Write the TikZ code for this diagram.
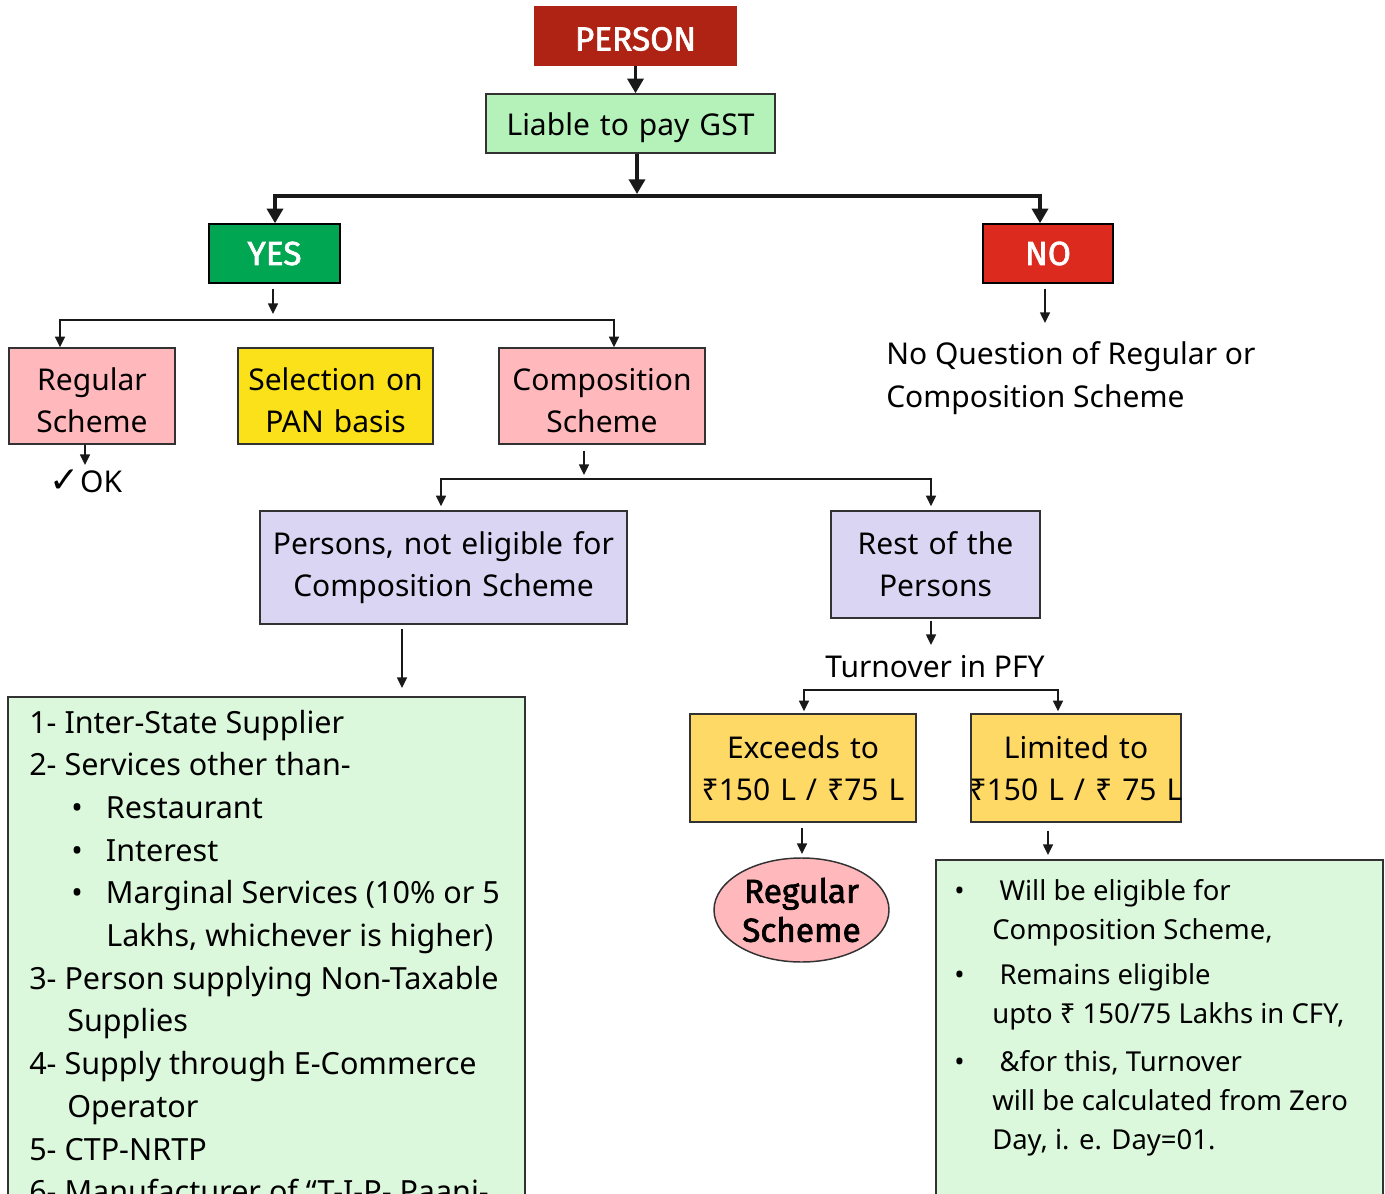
\documentclass[tikz,border=0pt]{standalone}
\usepackage{fontspec}
\setmainfont{Noto Sans}
\newfontfamily\boldfam{Fira Sans}[AutoFakeBold=2]
\newfontfamily\dejavu{DejaVu Sans}
\usetikzlibrary{arrows.meta,shapes.geometric}
\definecolor{cPerson}{RGB}{174,35,20}
\definecolor{cLiable}{RGB}{180,242,186}
\definecolor{cYes}{RGB}{0,166,81}
\definecolor{cNo}{RGB}{221,42,30}
\definecolor{cPink}{RGB}{255,184,188}
\definecolor{cYellow}{RGB}{251,225,26}
\definecolor{cLav}{RGB}{217,213,243}
\definecolor{cOrange}{RGB}{255,217,102}
\definecolor{cLGreen}{RGB}{220,248,220}
\definecolor{cBorder}{RGB}{50,50,50}
\definecolor{cLine}{RGB}{25,25,25}
\newcommand\bx[7]{%
  \pgfmathsetmacro\bxw{(#4-#2)*0.75}%
  \pgfmathsetmacro\bxh{(#5-#3)*0.75}%
  \pgfmathsetmacro\bxcx{(#2+#4)/2}%
  \pgfmathsetmacro\bxcy{(#3+#5)/2}%
  \node[#6, text width=\bxw pt, minimum height=\bxh pt] (#1) at (\bxcx,\bxcy) {#7};}
\newcommand\ctr[1]{\makebox[\linewidth][c]{#1}}
\newcommand\dn{\rule{0pt}{24pt}}
\tikzset{
  bx/.style={draw=cBorder, line width=1.1pt, inner sep=0pt, align=center,
    font=\fontsize{22.5}{31.5}\selectfont},
  boldw/.style={text=white, font=\boldfam\bfseries\fontsize{25}{27}\selectfont},
  thk/.style={line width=2.6pt, draw=cLine, -{Triangle[length=11pt,width=12pt]}},
  thn/.style={line width=1.1pt, draw=cLine, -{Triangle[length=8pt,width=7.5pt]}},
  ltxt/.style={inner sep=0pt, anchor=base west, font=\fontsize{22.9}{31.5}\selectfont},
  rtxt/.style={inner sep=0pt, anchor=base west, font=\fontsize{20.6}{29}\selectfont},
}
\begin{document}
\begin{tikzpicture}[x=0.75pt, y=-0.75pt]
\useasboundingbox (0,0) rectangle (1385,1194);
\clip (0,0) rectangle (1385,1194);
\fill[white] (0,0) rectangle (1385,1194);

% boxes
\bx{person}{535}{7}{736}{65}{bx, fill=cPerson, draw=cPerson, boldw}{\rule{0pt}{22pt}PERSON}
\bx{liable}{486}{94}{775}{153}{bx, fill=cLiable}{\rule{0pt}{23pt}Liable to pay GST}
\bx{yes}{209}{224}{340}{283}{bx, fill=cYes, draw=black, boldw}{YES}
\bx{no}{983}{224}{1113}{283}{bx, fill=cNo, draw=black, boldw}{NO}
\bx{regular}{9}{348}{175}{444}{bx, fill=cPink}{\dn Regular\\Scheme}
\bx{pan}{238}{348}{433}{444}{bx, fill=cYellow}{\dn Selection on\\PAN basis}
\bx{comp}{499}{348}{705}{444}{bx, fill=cPink}{\dn Composition\\Scheme}
\bx{pne}{260}{511}{627}{624}{bx, fill=cLav}{Persons, not eligible for\\Composition Scheme}
\bx{rest}{831}{511}{1040}{618}{bx, fill=cLav}{Rest of the\\Persons}
\bx{exc}{690}{714}{916}{822}{bx, fill=cOrange}{Exceeds to\\\ctr{₹150 L / ₹75 L}}
\bx{lim}{971}{714}{1181}{822}{bx, fill=cOrange}{Limited to\\\ctr{₹150 L / ₹ 75 L}}
\bx{lgreen}{8}{697}{525}{1240}{bx, fill=cLGreen}{}
\bx{rgreen}{936}{860}{1383}{1240}{bx, fill=cLGreen}{}

\node[ellipse, draw=cBorder, line width=1.1pt, fill=cPink, minimum width=131.25pt,
  minimum height=78pt, inner sep=0pt, align=center,
  font=\boldfam\bfseries\fontsize{25}{29.25}\selectfont] (ell) at (801.5,910) {Regular\\Scheme};

% free texts
\node[inner sep=0pt, anchor=base, font=\fontsize{22.5}{27}\selectfont] (ok) at (86,492) {{\dejavu\fontsize{27}{27}\selectfont ✓}OK};
\node[ltxt, font=\fontsize{22.5}{27}\selectfont] (noq1) at (886,365) {No Question of Regular or};
\node[ltxt, font=\fontsize{22.5}{27}\selectfont] (noq2) at (886,408) {Composition Scheme};
\node[inner sep=0pt, anchor=base, font=\fontsize{22.5}{27}\selectfont] (turn) at (935,677) {Turnover in PFY};

% left list
\node[ltxt] (l1) at (29,733) {1- Inter-State Supplier};
\node[ltxt] (l2) at (29,775.7) {2- Services other than-};
\node[ltxt] (l3) at (71,818.4) {\makebox[26pt][l]{•}Restaurant};
\node[ltxt] (l4) at (71,861.1) {\makebox[26pt][l]{•}Interest};
\node[ltxt] (l5) at (71,903.8) {\makebox[26pt][l]{•}Marginal Services (10\% or 5};
\node[ltxt] (l6) at (106,946.5) {Lakhs, whichever is higher)};
\node[ltxt] (l7) at (29,989.2) {3- Person supplying Non-Taxable};
\node[ltxt] (l8) at (67,1031.9) {Supplies};
\node[ltxt] (l9) at (29,1074.6) {4- Supply through E-Commerce};
\node[ltxt] (l10) at (67,1117.3) {Operator};
\node[ltxt] (l11) at (29,1160) {5- CTP-NRTP};
\node[ltxt] (l12) at (29,1202.7) {6- Manufacturer of “T-I-P- Paani-};

% right list
\node[rtxt] (r1) at (954,900) {\makebox[34pt][l]{•}Will be eligible for};
\node[rtxt] (r2) at (992,939) {Composition Scheme,};
\node[rtxt] (r3) at (954,984.5) {\makebox[34pt][l]{•}Remains eligible};
\node[rtxt] (r4) at (992,1023) {upto ₹ 150/75 Lakhs in CFY,};
\node[rtxt] (r5) at (954,1071) {\makebox[34pt][l]{•}\&for this, Turnover};
\node[rtxt] (r6) at (992,1110) {will be calculated from Zero};
\node[rtxt] (r7) at (992,1149) {Day, i. e. Day=01.};

% coordinates
\coordinate (b1) at (637,196);
\coordinate (b1L) at (275,196);
\coordinate (b1R) at (1040,196);
\coordinate (b2) at (273,320);
\coordinate (b2L) at (60,320);
\coordinate (b2R) at (614,320);
\coordinate (okt) at (85,465);
\coordinate (n1) at (1045,323);
\coordinate (b3) at (584,479);
\coordinate (b3L) at (441,479);
\coordinate (b3R) at (931,479);
\coordinate (p1) at (402,688);
\coordinate (rt) at (931,645);
\coordinate (b4L) at (804,690);
\coordinate (b4R) at (1058,690);
\coordinate (e1) at (802,854);
\coordinate (lt) at (1048,855);

% connectors
\draw[thk] (person.south) -- (person.south |- liable.north);
\draw[thk, shorten >=1.5pt] (liable.south -| b1) -- (b1);
\draw[thk] (b1) -- (b1L) -- (b1L |- yes.north);
\draw[thk] (b1) -- (b1R) -- (b1R |- no.north);

\draw[thn, shorten <=3.75pt, shorten >=4.5pt] (yes.south -| b2) -- (b2);
\draw[thn] (b2) -- (b2L) -- (b2L |- regular.north);
\draw[thn] (b2) -- (b2R) -- (b2R |- comp.north);
\draw[thn] (regular.south -| okt) -- (okt);

\draw[thn, shorten <=3.75pt] (no.south -| n1) -- (n1);

\draw[thn, shorten <=4.5pt, shorten >=3pt] (comp.south -| b3) -- (b3);
\draw[thn, shorten >=3pt] (b3) -- (b3L) -- (b3L |- pne.north);
\draw[thn, shorten >=3pt] (b3) -- (b3R) -- (b3R |- rest.north);

\draw[thn, shorten <=3pt] (pne.south -| p1) -- (p1);
\draw[thn, shorten <=1.5pt] (rest.south -| rt) -- (rt);

\draw[thn, shorten >=1.5pt] (b4R) -- (b4L) -- (b4L |- exc.north);
\draw[thn, shorten >=1.5pt] (b4L) -- (b4R) -- (b4R |- lim.north);

\draw[thn, shorten <=3.75pt] (exc.south -| e1) -- (e1);
\draw[thn, shorten <=6pt] (lim.south -| lt) -- (lt);
\end{tikzpicture}
\end{document}
